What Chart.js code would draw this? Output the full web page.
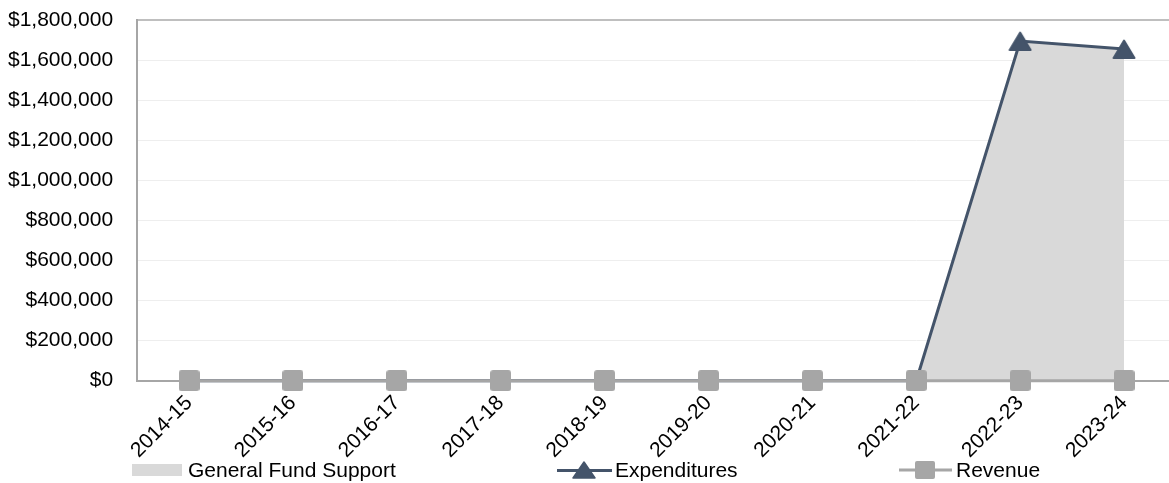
<!DOCTYPE html>
<html>
<head>
<meta charset="utf-8">
<script src="https://cdn.jsdelivr.net/npm/chart.js@4/dist/chart.umd.min.js"></script>
<style>
  html, body { margin: 0; padding: 0; background: #fff; }
  #wrap { position: relative; width: 1169px; height: 483px; overflow: hidden; font-family: "Liberation Sans", Arial, sans-serif; }
  #chart1 { position: absolute; left: 0; top: 0; }
  #legend { position: absolute; left: 0; top: 458px; width: 1169px; height: 24px; font-size: 21px; color: #000; }
  .item { position: absolute; top: 0; height: 24px; line-height: 24px; white-space: nowrap; }
  .sw { position: absolute; top: 0; }
</style>
</head>
<body>
<div id="wrap">
  <canvas id="chart1" width="1187" height="483"></canvas>
  <div id="legend">
    <div class="item" style="left:132px;">
      <svg class="sw" width="52" height="24" style="left:0"><rect x="0" y="6" width="50" height="12" fill="#d9d9d9"/></svg>
      <span style="position:absolute;left:56px;">General Fund Support</span>
    </div>
    <div class="item" style="left:557px;">
      <svg class="sw" width="56" height="24" style="left:0"><line x1="0" y1="12.5" x2="55" y2="12.5" stroke="#44546a" stroke-width="3"/><polygon points="27,4 38,20 16,20" fill="#44546a" stroke="#44546a" stroke-width="1.5" stroke-linejoin="round"/></svg>
      <span style="position:absolute;left:58px;">Expenditures</span>
    </div>
    <div class="item" style="left:899px;">
      <svg class="sw" width="54" height="24" style="left:0"><line x1="0" y1="12" x2="53" y2="12" stroke="#a6a6a6" stroke-width="3"/><rect x="16" y="3" width="20" height="18" rx="2" fill="#a6a6a6"/></svg>
      <span style="position:absolute;left:57px;">Revenue</span>
    </div>
  </div>
</div>
<script>
(function() {
    "use strict";

  var years = ['2014-15', '2015-16', '2016-17', '2017-18', '2018-19', '2019-20', '2020-21', '2021-22', '2022-23', '2023-24'];
  var generalFund = [0, 0, 0, 0, 0, 0, 0, 0, 1695000, 1655000];
  var expenditures = [0, 0, 0, 0, 0, 0, 0, 0, 1695000, 1655000];
  var revenue = [0, 0, 0, 0, 0, 0, 0, 0, 0, 0];

  Chart.defaults.font.family = '"Liberation Sans", Arial, sans-serif';
  Chart.defaults.font.size = 21;
  Chart.defaults.color = '#000';

  // marker images, centred on the point like the original
  function squareMarker(size, r, color) {
      var c = document.createElement('canvas');
      c.width = size; c.height = size;
      var g = c.getContext('2d');
      g.fillStyle = color;
      g.beginPath();
      g.moveTo(r, 0); g.lineTo(size - r, 0); g.arcTo(size, 0, size, r, r);
      g.lineTo(size, size - r); g.arcTo(size, size, size - r, size, r);
      g.lineTo(r, size); g.arcTo(0, size, 0, size - r, r);
      g.lineTo(0, r); g.arcTo(0, 0, r, 0, r);
      g.closePath();
      g.fill();
      return c;
  }
  function triangleMarker(w, h, color) {
      var c = document.createElement('canvas');
      c.width = w; c.height = h;
      var g = c.getContext('2d');
      g.fillStyle = color;
      g.strokeStyle = color;
      g.lineJoin = 'round';
      g.lineWidth = 2;
      g.beginPath();
      g.moveTo(w / 2, 1.5); g.lineTo(w - 1.5, h - 1); g.lineTo(1.5, h - 1);
      g.closePath();
      g.fill(); g.stroke();
      return c;
  }

  var ctx = document.getElementById('chart1').getContext('2d');

  var myChart = new Chart(ctx, {
      type: 'line',
      data: {
          labels: years,
          datasets: [{
              label: 'Revenue',
              data: revenue,
              borderColor: '#a6a6a6',
              backgroundColor: '#a6a6a6',
              borderWidth: 3,
              pointStyle: squareMarker(21, 3, '#a6a6a6'),
              pointRadius: 10,
              pointBorderWidth: 0,
              fill: false,
              clip: false,
              order: 0
          },
          {
              label: 'Expenditures',
              data: expenditures,
              borderColor: '#44546a',
              backgroundColor: '#44546a',
              borderWidth: 3,
              pointStyle: triangleMarker(24, 20, '#44546a'),
              pointRadius: function(c) { return c.raw ? 11 : 0; },
              pointBorderWidth: 0,
              fill: false,
              clip: false,
              order: 1
          },
          {
              label: 'General Fund Support',
              data: generalFund,
              borderWidth: 0,
              borderColor: 'rgba(0,0,0,0)',
              backgroundColor: '#d9d9d9',
              pointRadius: 0,
              fill: 'origin',
              order: 2
          }]
      },
      options: {
          responsive: false,
          animation: false,
          layout: { padding: { left: -16, top: 20, right: 1, bottom: 18 } },
          plugins: {
              legend: { display: false },
              tooltip: { enabled: false }
          },
          scales: {
              x: {
                  offset: true,
                  grid: { display: false },
                  border: { display: true, color: '#a6a6a6', width: 2 },
                  ticks: { minRotation: 45, maxRotation: 45, padding: 2, color: '#000' }
              },
              y: {
                  min: 0,
                  max: 1800000,
                  ticks: {
                      stepSize: 200000,
                      padding: 24,
                      color: '#000',
                      callback: function(v) { return '$' + Number(v).toLocaleString('en-US'); }
                  },
                  grid: {
                      drawTicks: false,
                      color: function(c) { return c.tick && c.tick.value === 1800000 ? '#bfbfbf' : '#eeeeee'; },
                      lineWidth: function(c) { return c.tick && c.tick.value === 1800000 ? 2 : 1; }
                  },
                  border: { display: true, color: '#a6a6a6', width: 2 },
                  afterFit: function(s) { s.paddingTop = 0; s.paddingBottom = 0; }
              }
          }
      }
  });
})();
</script>
</body>
</html>
